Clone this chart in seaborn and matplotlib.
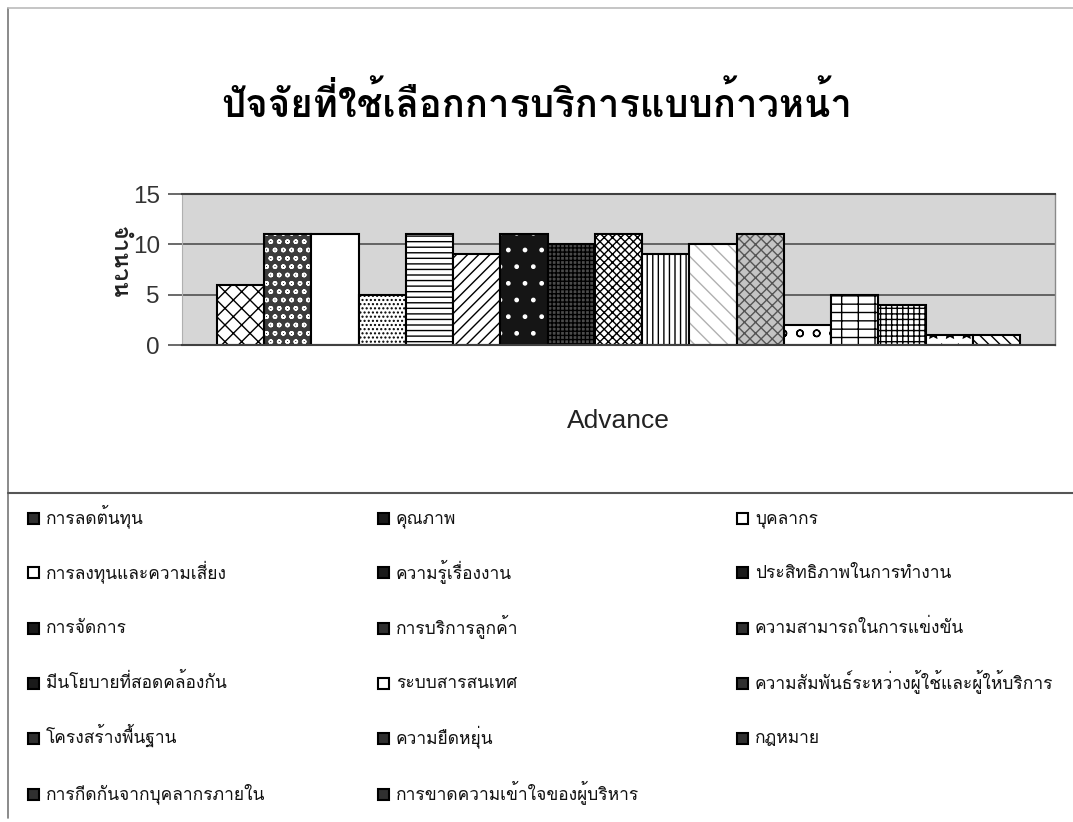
import matplotlib
matplotlib.use("Agg")
import matplotlib.pyplot as plt
import matplotlib.patches as mpatches
from matplotlib.lines import Line2D
import seaborn as sns
import pandas as pd

# ---------------- data ----------------
title = "ปัจจัยที่ใช้เลือกการบริการแบบก้าวหน้า"
group_label = "Advance"
y_label = "จำนวน"
factors = [
    "การลดต้นทุน", "คุณภาพ", "บุคลากร",
    "การลงทุนและความเสี่ยง", "ความรู้เรื่องงาน", "ประสิทธิภาพในการทำงาน",
    "การจัดการ", "การบริการลูกค้า", "ความสามารถในการแข่งขัน",
    "มีนโยบายที่สอดคล้องกัน", "ระบบสารสนเทศ", "ความสัมพันธ์ระหว่างผู้ใช้และผู้ให้บริการ",
    "โครงสร้างพื้นฐาน", "ความยืดหยุ่น", "กฎหมาย",
    "การกีดกันจากบุคลากรภายใน", "การขาดความเข้าใจของผู้บริหาร",
]
counts = [6, 11, 11, 5, 11, 9, 11, 10, 11, 9, 10, 11, 2, 5, 4, 1, 1]
y_ticks = [0, 5, 10, 15]

# ---------------- styles ----------------
face_colors = ["white", "#3c3c3c", "white", "white", "white", "white",
               "#151515", "#4a4a4a", "white", "white", "white", "#c4c4c4",
               "white", "white", "white", "white", "white"]
hatches = ["xx", "oo", None, "....", "---", "///",
           ".", "++++", "xxxx", "|||", "\\\\", "xxx",
           "o", "-+", "+++", "*", "\\\\\\"]
hatch_colors = ["black", "white", "black", "black", "black", "black",
                "white", "black", "black", "black", "#b0b0b0", "#555555",
                "black", "black", "black", "black", "black"]
icon_face = ["#303030", "#1a1a1a", "white", "white", "#1a1a1a", "#1a1a1a",
             "#1a1a1a", "#303030", "#303030", "#1a1a1a", "white", "#303030",
             "#303030", "#303030", "#303030", "#303030", "#303030"]

W, H = 1073, 822
sns.set_theme(style="white")
plt.rcParams["hatch.linewidth"] = 1.0
THAI = ["Loma", "Noto Sans Thai Looped", "DejaVu Sans"]
LAT = ["Liberation Sans", "DejaVu Sans"]

fig = plt.figure(figsize=(W / 100, H / 100), dpi=100, facecolor="white")
ax_left, ax_right, ax_top, ax_bot = 182, 1055, 194, 345
ax = fig.add_axes([ax_left / W, 1 - ax_bot / H, (ax_right - ax_left) / W, (ax_bot - ax_top) / H])

df = pd.DataFrame({"group": [group_label] * len(factors), "factor": factors, "count": counts})
palette = dict(zip(factors, face_colors))
sns.barplot(data=df, x="group", y="count", hue="factor", hue_order=factors,
            palette=palette, saturation=1, width=0.92, edgecolor="black",
            linewidth=1.5, legend=False, ax=ax, errorbar=None)

for i, cont in enumerate(ax.containers):
    for p in cont:
        if hatches[i]:
            p.set_hatch(hatches[i])
        try:
            p._hatch_color = matplotlib.colors.to_rgba(hatch_colors[i])
        except Exception:
            pass

ax.set_facecolor("#d6d6d6")
ax.set_ylim(0, 15)
ax.set_yticks(y_ticks)
ax.set_axisbelow(True)
ax.yaxis.grid(True, color="#505050", linewidth=1.2)
ax.xaxis.grid(False)
ax.tick_params(axis="y", length=10, width=1.2, color="#505050", pad=6,
               labelsize=17.5, labelcolor="#333333", left=True)
ax.tick_params(axis="x", length=0, pad=46, labelsize=19, labelcolor="#222222")
for lab in ax.get_yticklabels() + ax.get_xticklabels():
    lab.set_family(LAT)
ax.set_xlabel("")
ax.set_ylabel("")
for s in ["top", "bottom"]:
    ax.spines[s].set_color("#404040")
    ax.spines[s].set_linewidth(1.5)
ax.spines["right"].set_color("#8a8a8a")
ax.spines["right"].set_linewidth(1.0)
ax.spines["left"].set_color("#b0b0b0")
ax.spines["left"].set_linewidth(0.8)

# title and y label
fig.text(0.5, 1 - 103 / H, title, ha="center", va="center", fontsize=27.5,
         fontweight="bold", family=THAI, color="black")
fig.text(119 / W, 1 - 262 / H, y_label, ha="center", va="center", rotation=270,
         fontsize=17, fontweight="bold", family=THAI, color="#222222")

# frame lines
fig.add_artist(Line2D([8 / W, 8 / W], [1 - 8 / H, 1 - 818 / H], transform=fig.transFigure, color="#777777", lw=1.2))
fig.add_artist(Line2D([8 / W, 1], [1 - 8 / H, 1 - 8 / H], transform=fig.transFigure, color="#bbbbbb", lw=1.2))
fig.add_artist(Line2D([8 / W, 1], [1 - 493 / H, 1 - 493 / H], transform=fig.transFigure, color="#555555", lw=1.5))

# legend: three columns in row-wise order, icons and labels aligned on fixed rows
col_x = [28, 378, 737]
row_y = [518, 573, 628, 683, 738, 794]
box = 11
for i in range(len(factors)):
    r, c = divmod(i, 3)
    x0, yc = col_x[c], row_y[r]
    fig.add_artist(mpatches.Rectangle((x0 / W, 1 - (yc + box / 2) / H), box / W, box / H,
                                      transform=fig.transFigure, facecolor=icon_face[i],
                                      edgecolor="black", linewidth=1.5))
    fig.text((x0 + box + 7) / W, 1 - (yc + 5) / H, factors[i], ha="left", va="baseline",
             fontsize=12.5, family=THAI, color="#111111")

fig.savefig("out.png", dpi=100, facecolor="white")
